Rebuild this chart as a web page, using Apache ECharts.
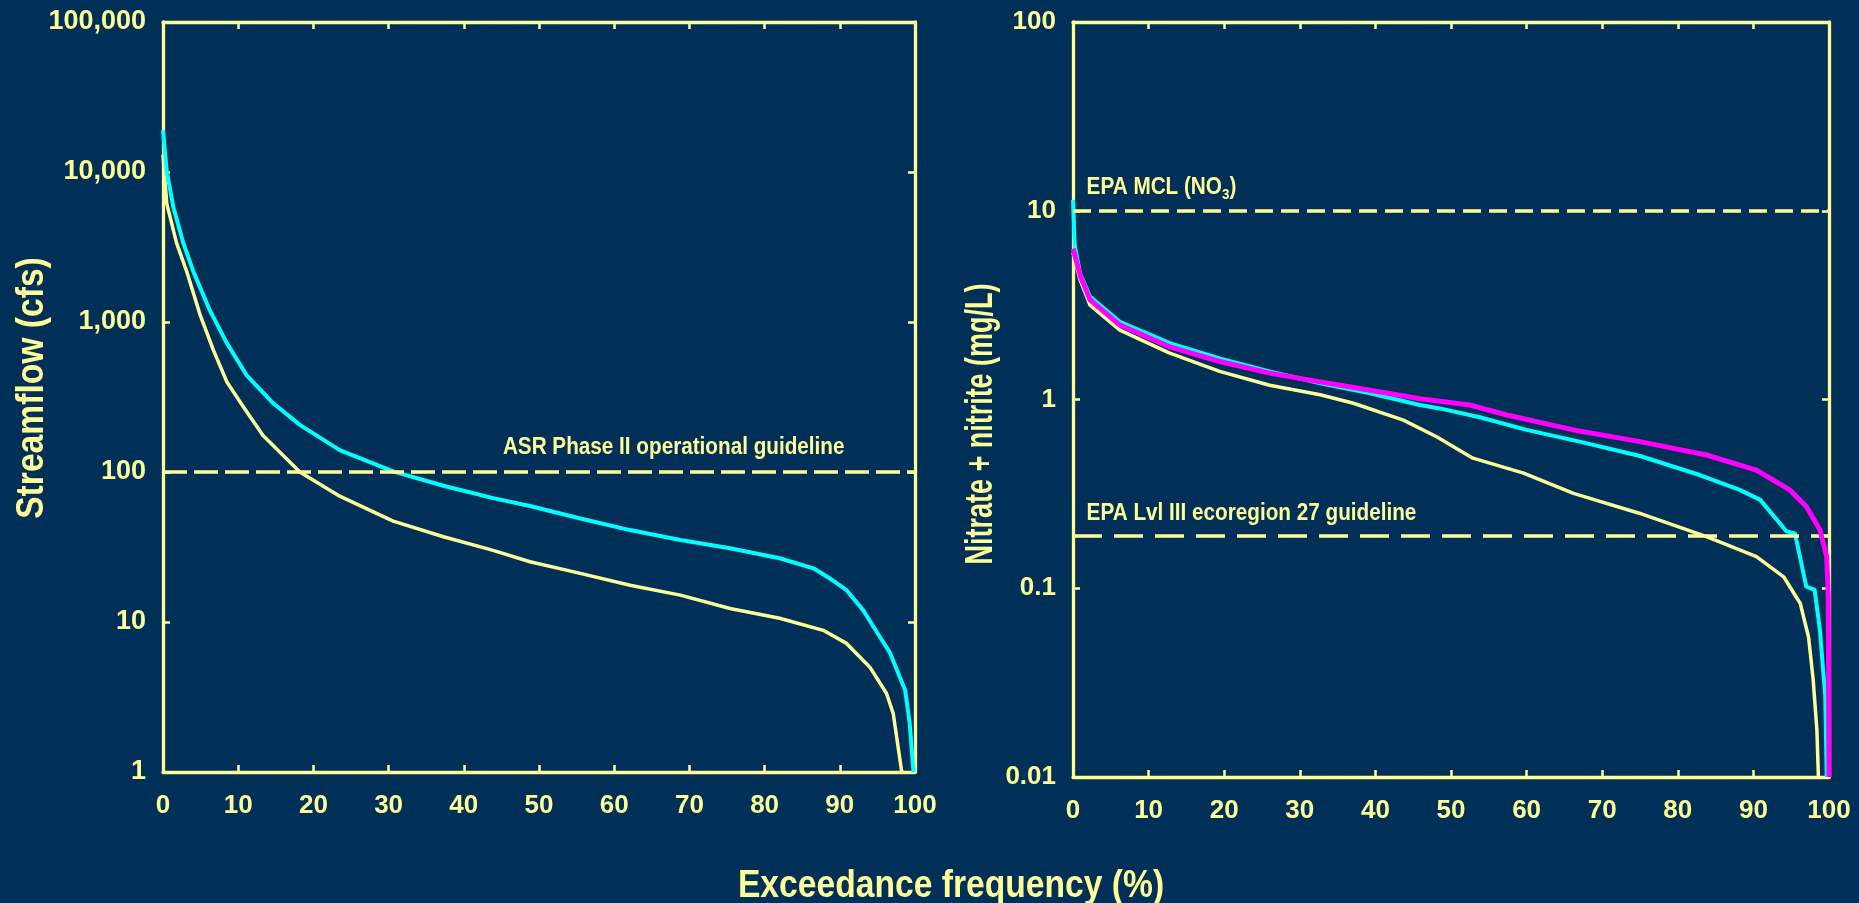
<!DOCTYPE html>
<html>
<head>
<meta charset="utf-8">
<title>Flow and nitrate duration curves</title>
<style>
  html, body { margin: 0; padding: 0; background: #003057; }
  #chart { width: 1859px; height: 903px; }
</style>
<script src="https://cdn.jsdelivr.net/npm/echarts@6/dist/echarts.min.js"></script>
</head>
<body>
<div id="chart"></div>
<script>
// ---- Tick labels ----
const xTickLabels = ['0', '10', '20', '30', '40', '50', '60', '70', '80', '90', '100'];
const flowTickLabels = ['1', '10', '100', '1,000', '10,000', '100,000']; // 10^0 .. 10^5
const nitrateTickLabels = ['0.01', '0.1', '1', '10', '100'];             // 10^-2 .. 10^2

// ---- Guideline values ----
const ASR_GUIDE = 100;      // cfs
const MCL_NO3 = 10;         // mg/L
const ECO27_GUIDE = 0.19;   // mg/L

// ---- Streamflow duration curves (exceedance %, cfs) ----
const flowYellowPct = [0, 0.5, 1.8, 3.15, 4.9, 6.7, 8.5, 10.7, 13.3, 18.2, 23.5, 30.6, 37.3, 43.9, 48.8, 55.5, 62.1, 68.8, 75.4, 82, 87.8, 90.9, 94, 96.2, 97.1, 98.2, 98.3];
const flowYellowCfs = [13000, 6150, 3370, 2175, 1130, 650, 398, 271, 175, 100, 69, 47, 37, 30, 25.2, 21.1, 17.6, 15.1, 12.3, 10.6, 8.8, 7.2, 5.0, 3.35, 2.46, 1.03, 1];

const flowCyanPct = [0, 0.5, 1.37, 2.7, 4.03, 6.25, 8.47, 11.1, 14.7, 18.2, 23.5, 30.6, 37.3, 43.9, 48.8, 55.5, 62.1, 68.8, 75.4, 82, 86.5, 88.7, 90.9, 93.1, 95.3, 96.7, 98.7, 99.3, 99.8];
const flowCyanCfs = [19000, 10100, 5850, 3370, 2175, 1190, 726, 443, 286, 206, 140, 101, 81, 67, 59.3, 49, 41, 35.2, 31, 26.6, 22.8, 19.5, 16.3, 12.0, 8.0, 6.2, 3.5, 2.1, 1.0];

// ---- Nitrate + nitrite duration curves (exceedance %, mg/L) ----
const no3YellowPct = [0, 0.93, 2.25, 6.2, 12.8, 19.4, 26, 32.7, 37.1, 43.7, 48.1, 52.9, 59.6, 66.2, 75, 83.8, 90.4, 94, 96.2, 97.3, 97.9, 98.4, 98.6];
const no3YellowMgL = [6.0, 4.3, 3.16, 2.33, 1.76, 1.41, 1.19, 1.06, 0.955, 0.778, 0.635, 0.489, 0.407, 0.318, 0.249, 0.1875, 0.147, 0.115, 0.083, 0.055, 0.033, 0.0177, 0.01];

const no3CyanPct = [0, 0.2, 0.26, 0.93, 2.25, 6.2, 12.8, 19.4, 26, 32.7, 39.3, 45.9, 48.5, 53.8, 60, 67, 75, 82.9, 88.2, 90.9, 94.4, 95.5, 97, 98.1, 98.8, 99.5, 99.7];
const no3CyanMgL = [11.4, 7.0, 6.46, 4.67, 3.51, 2.58, 1.99, 1.65, 1.41, 1.22, 1.08, 0.935, 0.897, 0.805, 0.69, 0.598, 0.502, 0.398, 0.332, 0.294, 0.2, 0.195, 0.102, 0.098, 0.06, 0.027, 0.01];

const no3MagentaPct = [0, 1.0, 2.25, 6.2, 12.8, 19.4, 26, 32.7, 39.3, 45.9, 52.5, 57.4, 66.2, 75, 83.8, 90.4, 94.8, 97, 98.8, 99.7, 99.9, 100];
const no3MagentaMgL = [6.3, 4.48, 3.37, 2.48, 1.9, 1.59, 1.38, 1.24, 1.12, 1.01, 0.935, 0.828, 0.69, 0.598, 0.508, 0.423, 0.332, 0.271, 0.204, 0.147, 0.09, 0.01];

// ---- Styling ----
const FG = '#FFFF99';
const BG = '#003057';
const CYAN = '#00FFFF';
const MAGENTA = '#FF00FF';
const FONT = '"Liberation Sans", Arial, Helvetica, sans-serif';

function pairs(xs, ys) { return xs.map((x, i) => [x, ys[i]]); }

function xAxes(gridIndex) {
  const base = {
    gridIndex, type: 'value', min: 0, max: 100, interval: 10,
    splitLine: { show: false },
    axisLine: { show: true, onZero: false, lineStyle: { color: FG, width: 3.3 } },
    axisTick: { show: true, inside: true, length: 7, lineStyle: { color: FG, width: 2.5 } }
  };
  return [
    Object.assign({}, base, {
      position: 'bottom',
      axisLabel: {
        show: true, color: FG, fontFamily: FONT, fontWeight: 'bold', fontSize: 26, margin: 21,
        formatter: v => xTickLabels[Math.round(v / 10)]
      }
    }),
    Object.assign({}, base, { position: 'top', axisLabel: { show: false } })
  ];
}

function yAxes(gridIndex, labels, minExp, fontSize) {
  const maxExp = minExp + labels.length - 1;
  const base = {
    gridIndex, type: 'log', logBase: 10,
    min: Math.pow(10, minExp), max: Math.pow(10, maxExp),
    splitNumber: labels.length - 1,
    splitLine: { show: false },
    minorTick: { show: false },
    axisLine: { show: true, onZero: false, lineStyle: { color: FG, width: 3.3 } },
    axisTick: { show: true, inside: true, length: 7, lineStyle: { color: FG, width: 2.5 } }
  };
  return [
    Object.assign({}, base, {
      position: 'left',
      axisLabel: {
        show: true, color: FG, fontFamily: FONT, fontWeight: 'bold', fontSize: fontSize, margin: 17,
        formatter: v => labels[Math.round(Math.log10(v)) - minExp]
      }
    }),
    Object.assign({}, base, { position: 'right', axisLabel: { show: false } })
  ];
}

function curve(name, xi, yi, xs, ys, color, width, z) {
  return {
    type: 'line', name, xAxisIndex: xi, yAxisIndex: yi,
    data: pairs(xs, ys),
    symbol: 'none', showSymbol: false, smooth: false, z: z,
    lineStyle: { color, width, join: 'round' }, itemStyle: { color },
    emphasis: { disabled: true }
  };
}

function guide(items) {
  return {
    silent: true, symbol: ['none', 'none'], animation: false,
    label: { show: false },
    data: items
  };
}

const chart = echarts.init(document.getElementById('chart'), null, { renderer: 'canvas', width: 1859, height: 903 });

const flowYellow = curve('Streamflow (yellow)', 0, 0, flowYellowPct, flowYellowCfs, FG, 3.5, 3);
flowYellow.markLine = guide([
  { yAxis: ASR_GUIDE, lineStyle: { color: FG, width: 3.5, type: [24, 7] } }
]);

const no3Yellow = curve('Nitrate (yellow)', 2, 2, no3YellowPct, no3YellowMgL, FG, 3.5, 3);
no3Yellow.markLine = guide([
  { yAxis: MCL_NO3, lineStyle: { color: FG, width: 3.5, type: [18, 8] } },
  { yAxis: ECO27_GUIDE, lineStyle: { color: FG, width: 3.5, type: [29, 12] } }
]);

chart.setOption({
  backgroundColor: BG,
  animation: false,
  grid: [
    { left: 163, top: 22, width: 752, height: 750, containLabel: false },
    { left: 1073, top: 22, width: 756, height: 755, containLabel: false }
  ],
  xAxis: [].concat(xAxes(0), xAxes(1)),
  yAxis: [].concat(yAxes(0, flowTickLabels, 0, 27), yAxes(1, nitrateTickLabels, -2, 26)),
  series: [
    flowYellow,
    curve('Streamflow (cyan)', 0, 0, flowCyanPct, flowCyanCfs, CYAN, 4, 4),
    no3Yellow,
    curve('Nitrate (cyan)', 2, 2, no3CyanPct, no3CyanMgL, CYAN, 4, 4),
    curve('Nitrate (magenta)', 2, 2, no3MagentaPct, no3MagentaMgL, MAGENTA, 5, 5)
  ]
});

// ---- Text: axis titles and guideline captions ----
const measureCtx = document.createElement('canvas').getContext('2d');
function textWidth(str, size) {
  measureCtx.font = 'bold ' + size + 'px ' + FONT;
  return measureCtx.measureText(str).width;
}

const TITLE_SIZE = 38;
const NOTE_SIZE = 23, NOTE_SX = 0.9, SUB_SIZE = 15;

function titleText(str, x, y, rotated, sx) {
  return {
    type: 'text', x, y, rotation: rotated ? Math.PI / 2 : 0, scaleX: sx, silent: true,
    style: { text: str, fill: FG, font: 'bold ' + TITLE_SIZE + 'px ' + FONT, align: 'center', verticalAlign: 'middle' }
  };
}

function noteText(str, x, baseline) {
  return {
    type: 'text', x, y: baseline - 0.35 * NOTE_SIZE, scaleX: NOTE_SX, silent: true,
    style: { text: str, fill: FG, font: 'bold ' + NOTE_SIZE + 'px ' + FONT, align: 'left', verticalAlign: 'middle' }
  };
}

const asrY = chart.convertToPixel({ gridIndex: 0 }, [0, ASR_GUIDE])[1];
const asrX = chart.convertToPixel({ gridIndex: 0 }, [45.2, ASR_GUIDE])[0];
const mclY = chart.convertToPixel({ gridIndex: 1 }, [0, MCL_NO3])[1];
const ecoY = chart.convertToPixel({ gridIndex: 1 }, [0, ECO27_GUIDE])[1];
const noteX = chart.convertToPixel({ gridIndex: 1 }, [1.8, 1])[0];

// "EPA MCL (NO3)" with a subscript 3
const mclMain = 'EPA MCL (NO';
const wMain = textWidth(mclMain, NOTE_SIZE);
const wSub = textWidth('3', SUB_SIZE);
const mclGroup = {
  type: 'group', x: noteX, y: mclY - 15 - 0.35 * NOTE_SIZE, scaleX: NOTE_SX, silent: true,
  children: [
    { type: 'text', x: 0, y: 0, style: { text: mclMain, fill: FG, font: 'bold ' + NOTE_SIZE + 'px ' + FONT, align: 'left', verticalAlign: 'middle' } },
    { type: 'text', x: wMain, y: 7, style: { text: '3', fill: FG, font: 'bold ' + SUB_SIZE + 'px ' + FONT, align: 'left', verticalAlign: 'middle' } },
    { type: 'text', x: wMain + wSub, y: 0, style: { text: ')', fill: FG, font: 'bold ' + NOTE_SIZE + 'px ' + FONT, align: 'left', verticalAlign: 'middle' } }
  ]
};

chart.setOption({
  graphic: [
    titleText('Streamflow (cfs)', 33, 388, true, 0.885),
    titleText('Nitrate + nitrite (mg/L)', 982, 424, true, 0.71),
    titleText('Exceedance frequency (%)', 951, 887, false, 0.885),
    noteText('ASR Phase II operational guideline', asrX, asrY - 16),
    mclGroup,
    noteText('EPA Lvl III ecoregion 27 guideline', noteX, ecoY - 14)
  ]
});
</script>
</body>
</html>
